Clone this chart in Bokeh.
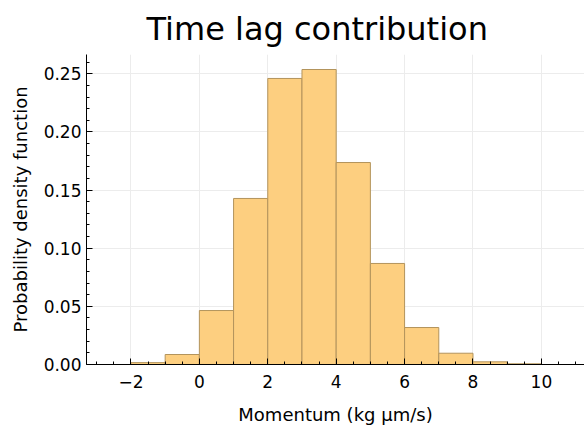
from bokeh.plotting import figure
from bokeh.models import FixedTicker, Range1d, PrintfTickFormatter
from bokeh.embed import file_html
from bokeh.resources import INLINE

# Histogram data (bin edges and density values)
bin_left = [-2, -1, 0, 1, 2, 3, 4, 5, 6, 7, 8, 9]
bin_right = [-1, 0, 1, 2, 3, 4, 5, 6, 7, 8, 9, 10]
density = [0.0016, 0.0086, 0.0464, 0.1428, 0.2460, 0.2537, 0.1737, 0.0869, 0.0318, 0.0097, 0.0023, 0.0006]

x_ticks = [-2, 0, 2, 4, 6, 8, 10]
y_ticks = [0.0, 0.05, 0.10, 0.15, 0.20, 0.25]

title_text = "Time lag contribution"
x_label = "Momentum (kg μm/s)"
y_label = "Probability density function"

FONT = "DejaVu Sans"

p = figure(width=584, height=429, output_backend="svg", toolbar_location=None,
           x_range=Range1d(-3.3, 11.26), y_range=Range1d(0, 0.2666),
           min_border_left=86, min_border_right=0, min_border_top=54, min_border_bottom=65)
p.outline_line_color = None
p.background_fill_color = "white"
p.border_fill_color = "white"

p.title.text = title_text
p.title.text_font = FONT
p.title.text_font_size = "32px"
p.title.text_font_style = "normal"
p.title.text_color = "black"
p.title.align = "left"
p.title.offset = 60
p.title.vertical_align = "bottom"
p.title.standoff = 14

p.quad(left=bin_left, right=bin_right, bottom=0, top=density,
       fill_color="#fdcf80", line_color="#b3945c", line_width=1)

xt = FixedTicker(ticks=x_ticks, minor_ticks=[v / 2 for v in range(-7, 23)])
yt = FixedTicker(ticks=y_ticks, minor_ticks=[v / 100 for v in range(0, 27)])
p.xaxis.ticker = xt
p.yaxis.ticker = yt
p.xgrid.ticker = FixedTicker(ticks=x_ticks)
p.ygrid.ticker = FixedTicker(ticks=y_ticks)
p.grid.grid_line_color = "#ececec"
p.grid.grid_line_width = 1

p.yaxis.formatter = PrintfTickFormatter(format="%.2f")
p.xaxis.major_label_overrides = {-2: "−2"}

for ax in (p.xaxis, p.yaxis):
    ax.axis_line_color = "black"
    ax.major_tick_line_color = "black"
    ax.minor_tick_line_color = "black"
    ax.major_tick_in = 6
    ax.major_tick_out = 0
    ax.minor_tick_in = 3
    ax.minor_tick_out = 0
    ax.major_label_text_font = FONT
    ax.major_label_text_font_size = "17px"
    ax.major_label_text_color = "black"
    ax.axis_label_text_font = FONT
    ax.axis_label_text_font_size = "18px"
    ax.axis_label_text_font_style = "normal"
    ax.axis_label_text_color = "black"

p.xaxis.major_label_standoff = 10
p.yaxis.major_label_standoff = 5
p.xaxis.axis_label = x_label
p.yaxis.axis_label = y_label
p.xaxis.axis_label_standoff = 13
p.yaxis.axis_label_standoff = 10

open("out.html", "w").write(file_html(p, INLINE))
